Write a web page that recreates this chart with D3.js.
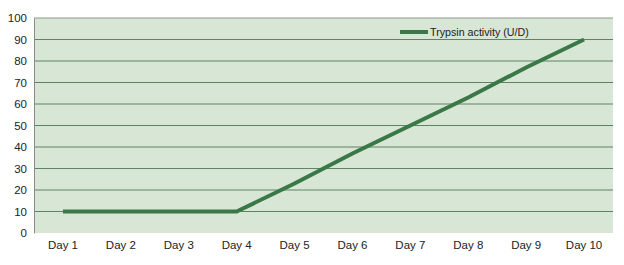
<!DOCTYPE html>
<html lang="en">
<head>
  <meta charset="UTF-8">
  <title>Trypsin activity</title>
  <script src="https://cdn.jsdelivr.net/npm/d3@7"></script>
  <style>
    body { margin: 0; background: #fff; }
    text { font-family: "Liberation Sans", Arial, sans-serif; fill: #222; }
  </style>
</head>
<body>
  <script>
    const days = ["Day 1", "Day 2", "Day 3", "Day 4", "Day 5", "Day 6", "Day 7", "Day 8", "Day 9", "Day 10"];
    const trypsin = [10, 10, 10, 10, 23, 37, 50, 63, 77, 90];
    const yTicks = [0, 10, 20, 30, 40, 50, 60, 70, 80, 90, 100];

    const w = 624, h = 265;
    const plotLeft = 34, plotRight = 613, plotTop = 18, plotBottom = 233;

    const svg = d3.select("body").append("svg")
      .attr("width", w)
      .attr("height", h);

    const xScale = d3.scaleBand().domain(days).range([plotLeft, plotRight]);
    const yScale = d3.scaleLinear().domain([0, 100]).range([plotBottom, plotTop]);

    svg.append("rect")
      .attr("x", plotLeft).attr("y", plotTop)
      .attr("width", plotRight - plotLeft).attr("height", plotBottom - plotTop)
      .attr("fill", "#d8e6d5");

    // gridlines
    svg.append("g")
      .selectAll("line")
      .data(yTicks.filter(d => d > 0))
      .enter()
      .append("line")
      .attr("x1", plotLeft).attr("x2", plotRight)
      .attr("y1", d => yScale(d)).attr("y2", d => yScale(d))
      .attr("stroke", d => d === 100 ? "#8a9a8c" : "#5e8466")
      .attr("stroke-width", 1.2);

    const yAxis = d3.axisLeft(yScale).tickValues(yTicks).tickSize(0).tickPadding(7);
    const gy = svg.append("g")
      .attr("transform", "translate(" + plotLeft + ",0)")
      .call(yAxis);
    gy.select(".domain").attr("stroke", "#8a8a8a");
    gy.selectAll("text").style("font-size", "11.5px");

    const xAxis = d3.axisBottom(xScale).tickSize(0).tickPadding(8);
    const gx = svg.append("g")
      .attr("transform", "translate(0," + plotBottom + ")")
      .call(xAxis);
    gx.select(".domain").remove();
    gx.selectAll("text").style("font-size", "11.5px");

    const line = d3.line()
      .x((d, i) => xScale(days[i]) + xScale.bandwidth() / 2)
      .y(d => yScale(d));

    svg.append("path")
      .datum(trypsin)
      .attr("d", line)
      .attr("fill", "none")
      .attr("stroke", "#3a7847")
      .attr("stroke-width", 4);

    // legend
    svg.append("line")
      .attr("x1", 400).attr("x2", 428)
      .attr("y1", 32).attr("y2", 32)
      .attr("stroke", "#3a7847")
      .attr("stroke-width", 4);
    svg.append("text")
      .attr("x", 430).attr("y", 36)
      .style("font-size", "10.7px")
      .text("Trypsin activity (U/D)");
  </script>
</body>
</html>
